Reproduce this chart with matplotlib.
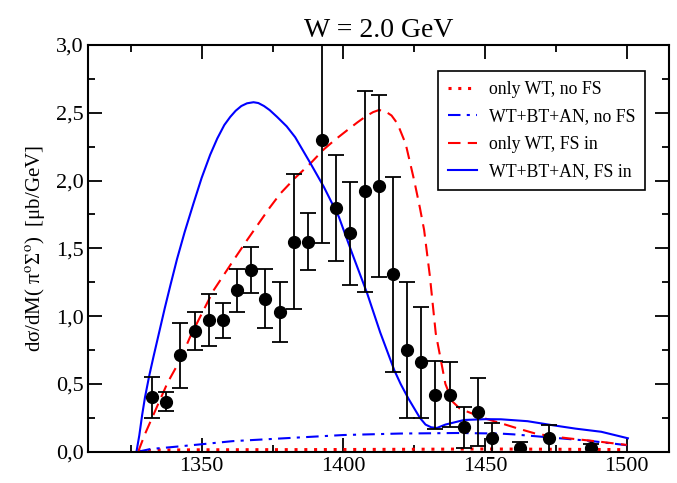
import matplotlib
matplotlib.use("Agg")
import matplotlib.pyplot as plt
from matplotlib.ticker import MultipleLocator

plt.rcParams['font.family'] = ['Liberation Serif', 'DejaVu Serif']
plt.rcParams['mathtext.fontset'] = 'stix'

# data points (M in MeV, dsigma/dM)
m_data = [1332.5, 1337.5, 1342.5, 1347.5, 1352.5, 1357.5, 1362.5, 1367.5, 1372.5, 1377.5,
          1382.5, 1387.5, 1392.5, 1397.5, 1402.5, 1407.5, 1412.5, 1417.5, 1422.5, 1427.5,
          1432.5, 1437.5, 1442.5, 1447.5, 1452.5, 1462.5, 1472.5, 1487.5]
y_data = [0.40, 0.37, 0.71, 0.89, 0.97, 0.97, 1.19, 1.34, 1.13, 1.03,
          1.55, 1.55, 2.30, 1.80, 1.61, 1.92, 1.96, 1.31, 0.75, 0.66,
          0.42, 0.42, 0.18, 0.29, 0.10, 0.03, 0.10, 0.025]
err_data = [0.15, 0.07, 0.24, 0.14, 0.19, 0.13, 0.16, 0.17, 0.22, 0.22,
            0.50, 0.21, 0.76, 0.39, 0.38, 0.74, 0.67, 0.72, 0.50, 0.41,
            0.25, 0.24, 0.15, 0.25, 0.11, 0.04, 0.10, 0.03]

# only WT, no FS
m_wt_nofs = [1327.6, 1330, 1335, 1350, 1375, 1400, 1425, 1450, 1475, 1500]
y_wt_nofs = [0.0, 0.008, 0.012, 0.014, 0.015, 0.016, 0.018, 0.02, 0.018, 0.015]

# WT+BT+AN, no FS
m_all_nofs = [1327.6, 1332, 1340, 1350, 1361, 1380, 1400, 1420, 1431, 1440, 1455, 1460,
              1473, 1487, 1500]
y_all_nofs = [0.0, 0.02, 0.035, 0.055, 0.078, 0.10, 0.123, 0.134, 0.136, 0.138, 0.134, 0.128,
              0.105, 0.08, 0.048]

# only WT, FS in
m_wt_fs = [1327.6, 1330, 1334.2, 1338, 1342.4, 1346, 1349.5, 1354.2, 1361.3, 1366, 1370,
           1374, 1377.8, 1383, 1388.4, 1393.1, 1397, 1401.4, 1405, 1408, 1410.5, 1412.5,
           1414.5, 1417, 1419.1, 1422, 1425, 1427, 1428.5, 1430.5, 1432.6, 1434.4, 1436,
           1438.5, 1441, 1443.8, 1450, 1455.6, 1461, 1467.4, 1473, 1479.2, 1490, 1500]
y_wt_fs = [0.0, 0.13, 0.33, 0.51, 0.676, 0.85, 0.996, 1.19, 1.414, 1.56, 1.68,
           1.80, 1.905, 2.02, 2.127, 2.23, 2.30, 2.372, 2.43, 2.475, 2.505, 2.52,
           2.515, 2.48, 2.42, 2.27, 2.0, 1.80, 1.635, 1.30, 0.873, 0.676, 0.50,
           0.37, 0.32, 0.295, 0.245, 0.21, 0.175, 0.136, 0.115, 0.099, 0.075, 0.05]

# WT+BT+AN, FS in
m_all_fs = [1327.0, 1328.0, 1329.0, 1330.0, 1331.5, 1333.0, 1335.0, 1337.0, 1339.0, 1341.3,
            1344.0, 1347.1, 1350.0, 1353.0, 1355.5, 1358.0, 1360.1, 1362.0, 1364.0, 1366.0,
            1368.3, 1370.0, 1372.0, 1374.0, 1376.6, 1380.0, 1383.0, 1388.4, 1393.1, 1398.4,
            1403.1, 1408.4, 1413.0, 1418.0, 1420.2, 1423.0, 1425.0, 1427.0, 1429.0, 1431.0,
            1433.0, 1436.0, 1442.6, 1450.0, 1455.6, 1465.0, 1473.3, 1482.0, 1491.0, 1500.4]
y_all_fs = [0.0, 0.12, 0.27, 0.40, 0.56, 0.70, 0.88, 1.06, 1.23, 1.42,
            1.62, 1.83, 2.02, 2.19, 2.31, 2.41, 2.47, 2.515, 2.55, 2.57,
            2.578, 2.572, 2.55, 2.52, 2.47, 2.40, 2.32, 2.127, 1.954, 1.733,
            1.463, 1.168, 0.88, 0.60, 0.50, 0.39, 0.32, 0.25, 0.20, 0.18,
            0.175, 0.20, 0.234, 0.24, 0.239, 0.225, 0.197, 0.17, 0.147, 0.099]

y_ticks = [0.0, 0.5, 1.0, 1.5, 2.0, 2.5, 3.0]
y_tick_labels = ['0,0', '0,5', '1,0', '1,5', '2,0', '2,5', '3,0']
x_ticks = [1350, 1400, 1450, 1500]

fig = plt.figure(figsize=(6.77, 4.83), dpi=100)
ax = fig.add_axes([0.1304, 0.0648, 0.8582, 0.842])

lw = 1.5
ax.plot(m_wt_nofs, y_wt_nofs, color='red', lw=2.2, ls=(0, (1, 2.2)), label='only WT, no FS')
ax.plot(m_all_nofs, y_all_nofs, color='blue', lw=lw, ls=(0, (6, 3, 1.5, 3)), label='WT+BT+AN, no FS')
ax.plot(m_wt_fs, y_wt_fs, color='red', lw=lw, ls=(0, (6, 3.5)), label='only WT, FS in')
ax.plot(m_all_fs, y_all_fs, color='blue', lw=lw, label='WT+BT+AN, FS in')

ax.errorbar(m_data, y_data, yerr=err_data, fmt='o', color='black', ms=8.5,
            elinewidth=1.3, capsize=5.5, capthick=1.3, zorder=5)

ax.set_xlim(1310, 1515)
ax.set_ylim(0, 3.0)
ax.set_xticks(x_ticks)
ax.xaxis.set_minor_locator(MultipleLocator(25))
ax.set_yticks(y_ticks)
ax.set_yticklabels(y_tick_labels)
ax.yaxis.set_minor_locator(MultipleLocator(0.25))
ax.tick_params(which='both', direction='in', top=True, right=True, labelsize=16, width=1.3)
ax.tick_params(which='major', length=10)
ax.tick_params(which='minor', length=5)
for s in ax.spines.values():
    s.set_linewidth(1.5)

ax.set_title('W = 2.0 GeV', fontsize=20, pad=6)
ax.set_ylabel(r'dσ/dM( π$^{\mathrm{o}}$Σ$^{\mathrm{o}}$)  [μb/GeV]', fontsize=15, labelpad=6)

leg = ax.legend(loc='upper right', bbox_to_anchor=(0.974, 0.957), fontsize=12.8,
                fancybox=False, edgecolor='black', framealpha=1, handlelength=1.6,
                handletextpad=0.7, labelspacing=0.58, borderpad=0.55)
leg.get_frame().set_linewidth(1.2)

fig.savefig('out.png', dpi=100)
